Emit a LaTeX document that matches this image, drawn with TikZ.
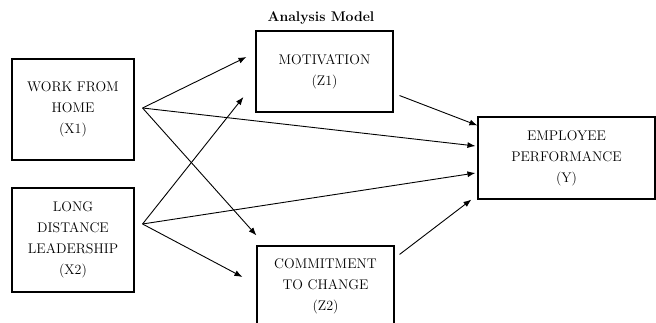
\documentclass[tikz,border=0pt]{standalone}
\usetikzlibrary{arrows.meta}
\begin{document}
\begin{tikzpicture}
	[
	x=1pt, y=1pt, font=\fontsize{14}{21}\selectfont, >={Latex[length=8pt,width=6pt]},
	%Voreinstellungen
	box/.style={draw, line width=1.1pt, align=center, inner sep=0pt},
	link/.style={->, line width=0.9pt}
	]
	
	%Rahmen
	\useasboundingbox (0,0) rectangle (656,323);
	\clip (0,0) rectangle (656,323);
	
	%Titel
	\node [font=\fontsize{14}{16}\selectfont\bfseries] (title) at (321,305) {Analysis Model};
	
	%Kaesten
	\node [box, minimum width=122pt, minimum height=101pt] (x1) at (73,213.5) {WORK FROM\\HOME\\(X1)};
	\node [box, minimum width=122pt, minimum height=104pt] (x2) at (73,83) {LONG\\DISTANCE\\LEADERSHIP\\(X2)};
	\node [box, minimum width=137pt, minimum height=81pt] (z1) at (324.5,251.5) {MOTIVATION\\(Z1)};
	\node [box, minimum width=137pt, minimum height=80pt] (z2) at (325.5,37) {COMMITMENT\\TO CHANGE\\(Z2)};
	\node [box, minimum width=177pt, minimum height=82pt] (y) at (566.5,165) {EMPLOYEE\\PERFORMANCE\\(Y)};
	
	%Anfangs- und Endpunkte
	\coordinate (x1out) at ([shift={(8,1.5)}]x1.east);
	\coordinate (x2out) at ([shift={(8,16)}]x2.east);
	\coordinate (z1a) at ([shift={(-9,14.5)}]z1.west);
	\coordinate (z1b) at ([shift={(-12,-25.5)}]z1.west);
	\coordinate (z2a) at ([shift={(0,10)}]z2.north west);
	\coordinate (z2b) at ([shift={(-14,9)}]z2.west);
	\coordinate (ya) at ([shift={(-2,12)}]y.west);
	\coordinate (yb) at ([shift={(-2,-15)}]y.west);
	\coordinate (yc) at ([shift={(0,-9)}]y.north west);
	\coordinate (yd) at ([shift={(-6,0)}]y.south west);
	\coordinate (z1out) at ([shift={(6,17)}]z1.south east);
	\coordinate (z2out) at ([shift={(5,-9)}]z2.north east);
	
	%Pfeile
	\draw [link] (x1out) -- (z1a);
	\draw [link] (x1out) -- (ya);
	\draw [link] (x1out) -- (z2a);
	\draw [link] (x2out) -- (z1b);
	\draw [link] (x2out) -- (yb);
	\draw [link] (x2out) -- (z2b);
	\draw [link] (z1out) -- (yc);
	\draw [link] (z2out) -- (yd);
\end{tikzpicture}
\end{document}
